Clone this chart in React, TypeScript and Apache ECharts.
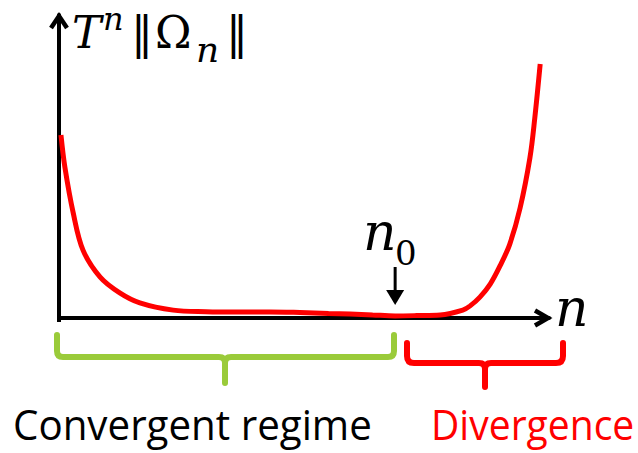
import React, { useEffect, useRef } from "react";
import * as echarts from "echarts";

// Curve samples (n on 0..100, value on 0..100)
const nValues = [0.4, 1.2, 2.9, 4.9, 8.4, 12.4, 16.5, 23.3, 30, 36.9, 43, 49.2, 55, 59.4, 64, 68.6, 73, 77.8, 82.4, 83.9, 85.9, 88.0, 90.0, 92.0, 94.1, 96.1, 97.1, 98.2];
const curveValues = [60.4, 49.8, 34.7, 22.4, 13.5, 8.3, 5.0, 2.6, 2.1, 2.0, 2.0, 1.8, 1.5, 1.3, 1.0, 0.7, 0.8, 1.0, 2.6, 4.0, 6.9, 11.2, 17.2, 24.4, 36.3, 52.8, 66.0, 83.8];
const n0 = 68.6;
const regimeLabels = ["Convergent regime", "Divergence"];

const GREEN_BRACE = "M57,335 L57,351 Q57,357 63,357 L219,357 Q225,357 225,363 L225,383 M225,363 Q225,357 231,357 L388,357 Q394,357 394,351 L394,335";
const RED_BRACE = "M407,343 L407,356 Q407,363 414,363 L479,363 Q485,363 485,369 L485,387 M485,369 Q485,363 491,363 L556,363 Q563,363 563,356 L563,343";

echarts.graphic.registerShape("braceGreen", echarts.graphic.extendPath(GREEN_BRACE, {}));
echarts.graphic.registerShape("braceRed", echarts.graphic.extendPath(RED_BRACE, {}));

const SERIF = "'DejaVu Serif', serif";
const SANS = "'Open Sans', 'Noto Sans', sans-serif";

function txt(text: string, x: number, y: number, font: string, fill = "#000", extra: any = {}, lineHeight?: number) {
  return {
    type: "text",
    x,
    y,
    silent: true,
    ...extra,
    style: {
      text,
      font,
      fill,
      align: "left",
      verticalAlign: "middle",
      textAlign: "left",
      textVerticalAlign: "middle",
      ...(lineHeight ? { lineHeight } : {}),
    },
  };
}

export default function App() {
  const ref = useRef<HTMLDivElement>(null);
  useEffect(() => {
    if (!ref.current) return;
    const chart = echarts.init(ref.current, undefined, { renderer: "svg" });
    const axisCommon = {
      type: "value",
      min: 0,
      max: 100,
      axisLine: { show: true, onZero: false, lineStyle: { color: "#000", width: 4 } },
      axisTick: { show: false },
      axisLabel: { show: false },
      splitLine: { show: false },
    };
    chart.setOption({
      animation: false,
      backgroundColor: "#fff",
      grid: { left: 59, right: 89, top: 15, bottom: 135 },
      xAxis: { ...axisCommon },
      yAxis: { ...axisCommon },
      series: [
        {
          type: "line",
          data: nValues.map((n, i) => [n, curveValues[i]]),
          smooth: 0.35,
          symbol: "none",
          lineStyle: { color: "#ff0000", width: 5 },
          z: 3,
        },
      ],
    });
    const o = chart.convertToPixel({ gridIndex: 0 }, [0, 0]) as number[];
    const xe = chart.convertToPixel({ gridIndex: 0 }, [100, 0]) as number[];
    const ye = chart.convertToPixel({ gridIndex: 0 }, [0, 100]) as number[];
    const m = chart.convertToPixel({ gridIndex: 0 }, [n0, 0]) as number[];
    chart.setOption({
      graphic: [
        { type: "polyline", silent: true, shape: { points: [[xe[0] - 14, xe[1] - 7.5], [xe[0] - 1, xe[1]], [xe[0] - 14, xe[1] + 7.5]] }, style: { stroke: "#000", lineWidth: 4.5, fill: "none", lineJoin: "miter" } },
        { type: "polyline", silent: true, shape: { points: [[ye[0] - 8, ye[1] + 13], [ye[0], ye[1] + 1], [ye[0] + 8, ye[1] + 13]] }, style: { stroke: "#000", lineWidth: 4.5, fill: "none", lineJoin: "miter" } },
        { type: "line", silent: true, shape: { x1: o[0], y1: o[1] - 2, x2: o[0], y2: o[1] + 4 }, style: { stroke: "#000", lineWidth: 4 } },
        { type: "line", silent: true, shape: { x1: m[0], y1: m[1] - 51, x2: m[0], y2: m[1] - 26 }, style: { stroke: "#000", lineWidth: 3 } },
        { type: "polygon", silent: true, shape: { points: [[m[0] - 9, m[1] - 28], [m[0] + 9, m[1] - 28], [m[0], m[1] - 13]] }, style: { fill: "#000" } },
        { type: "braceGreen", x: 0, y: 0, silent: true, style: { fill: "none", stroke: "#9acb3a", lineWidth: 6, lineCap: "round", lineJoin: "round" } },
        { type: "braceRed", x: 0, y: 0, silent: true, style: { fill: "none", stroke: "#ff0000", lineWidth: 6, lineCap: "round", lineJoin: "round" } },
        txt("T", 72, 32, `italic 44px ${SERIF}`),
        txt("n", 103, 19, `italic 32px ${SERIF}`, "#000", {}, 30),
        txt("\u2016", 131, 32, `44px ${SERIF}`),
        txt("\u03A9", 155, 32, `44px ${SERIF}`),
        txt("n", 196, 49.5, `italic 36px ${SERIF}`),
        txt("\u2016", 226, 32, `44px ${SERIF}`),
        txt("n", 555, 308, `italic 52px ${SERIF}`),
        txt("n", 363, 232, `italic 52px ${SERIF}`),
        txt("0", 395, 253, `34px ${SERIF}`),
        txt(regimeLabels[0], 13, 423.5, `42px ${SANS}`, "#000", { scaleX: 0.96 }, 42),
        txt(regimeLabels[1], 431, 423.5, `42px ${SANS}`, "#ff0000", { scaleX: 0.93 }, 42),
      ],
    });
    return () => chart.dispose();
  }, []);
  return <div ref={ref} style={{ width: 638, height: 453, position: "absolute", left: 0, top: 0 }} />;
}
